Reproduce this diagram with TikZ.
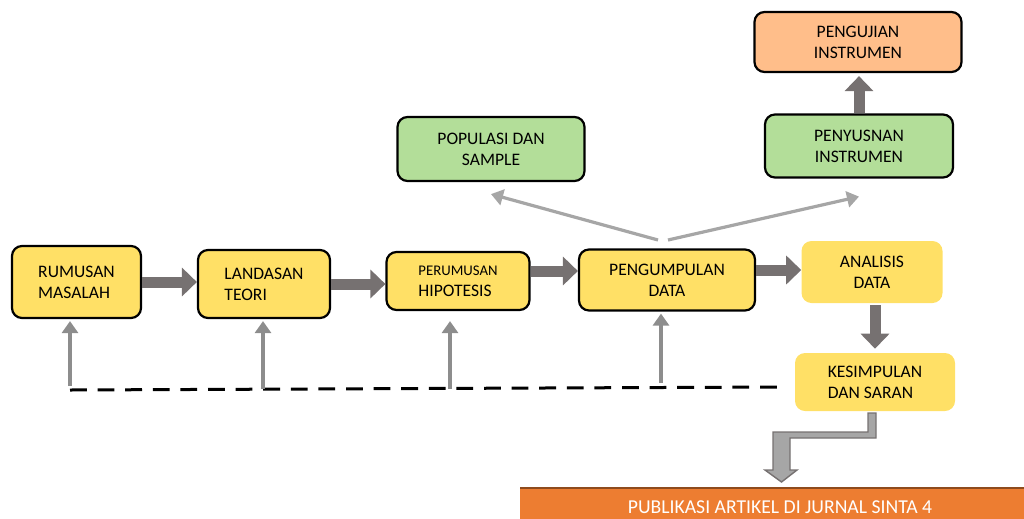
\documentclass[tikz,border=0pt]{standalone}
\usepackage{fontspec}
\setmainfont{Carlito}
\usetikzlibrary{arrows.meta}
\definecolor{boxyellow}{HTML}{FFE066}
\definecolor{boxgreen}{HTML}{B3DE99}
\definecolor{boxsalmon}{HTML}{FFBE8A}
\definecolor{pubor}{HTML}{ED7D31}
\definecolor{arrdark}{HTML}{767171}
\definecolor{arrlight}{HTML}{A6A6A6}
\tikzset{
  box/.style={draw=black, line width=0.55mm, rounded corners=2.5mm,
    font=\fontsize{12.5}{15}\selectfont, inner sep=0pt},
  plainbox/.style={rounded corners=2.5mm,
    font=\fontsize{12.5}{15}\selectfont, inner sep=0pt},
  bigarrow/.style={draw=arrdark, line width=2.75mm,
    -{Triangle[width=7mm,length=3.75mm]}},
  thinarrow/.style={draw=arrlight, line width=0.8mm,
    -{Triangle[width=4mm,length=3mm]}},
  backline/.style={draw=black, line width=0.75mm,
    dash pattern=on 4.2mm off 2.7mm}
}
\begin{document}
\begin{tikzpicture}[x=0.25mm,y=-0.25mm]
  \useasboundingbox (0,0) rectangle (1024,518);
  % main row
  \node[box, fill=boxyellow, minimum width=32.25mm, minimum height=18mm,
    align=left] (rm) at (76.5,282) {RUMUSAN\\MASALAH};
  \node[box, fill=boxyellow, minimum width=33mm, minimum height=17mm,
    align=left] (ld) at (264,284) {LANDASAN\\TEORI};
  \node[box, fill=boxyellow, minimum width=35.75mm, minimum height=14.5mm,
    align=left] (ph) at (458,281)
    {{\fontsize{10.5}{13}\selectfont PERUMUSAN}\\HIPOTESIS};
  \node[box, fill=boxyellow, minimum width=44mm, minimum height=15.25mm,
    align=center] (pd) at (667,280) {PENGUMPULAN\\DATA};
  \node[plainbox, fill=boxyellow, minimum width=35.25mm, minimum height=15.5mm,
    align=center] (ad) at (872,272) {ANALISIS\\DATA};
  \node[plainbox, fill=boxyellow, minimum width=40mm, minimum height=14.5mm,
    align=left] (ks) at (875,382) {KESIMPULAN\\DAN SARAN};
  % upper boxes
  \node[box, fill=boxgreen, minimum width=46.75mm, minimum height=16mm,
    align=center] (ps) at (491,149) {POPULASI DAN\\SAMPLE};
  \node[box, fill=boxgreen, minimum width=47mm, minimum height=15.75mm,
    align=center] (pi) at (859,146) {PENYUSNAN\\INSTRUMEN};
  \node[box, fill=boxsalmon, minimum width=51.75mm, minimum height=15mm,
    align=center] (pu) at (858,42) {PENGUJIAN\\INSTRUMEN};
  % publication bar
  \fill[pubor] (520,488) rectangle (1030,545);
  \draw[draw=pubor!60!black, line width=0.4mm] (520,488) -- (1030,488);
  \node[text=white, font=\fontsize{14}{16}\selectfont, inner sep=0pt,
    anchor=north] (pb) at (780,500) {PUBLIKASI ARTIKEL DI JURNAL SINTA 4};

  % block arrows
  \draw[bigarrow] (rm.east) -- (rm.east -| ld.west);
  \draw[bigarrow] (ld.east) -- (ld.east -| ph.west);
  \draw[bigarrow] ([yshift=2.5mm]ph.east) -- ([yshift=2.5mm]ph.east -| pd.west);
  \draw[bigarrow] ([yshift=2.5mm]pd.east) -- ([yshift=2.5mm]pd.east -| ad.west);
  \draw[bigarrow] ([yshift=-0.5mm]ad.south -| ks.north) -- ([yshift=1mm]ks.north);
  \draw[bigarrow] (pi.north) -- ([yshift=-0.75mm]pi.north |- pu.south);

  % fan out from data collection
  \coordinate (f1) at (658,240);
  \coordinate (f2) at (668,240);
  \draw[thinarrow] (f1) -- ([yshift=-3mm]ps.south);
  \draw[thinarrow] (f2) -- ([yshift=-4.5mm]pi.south);

  % feedback line
  \coordinate (d0) at (70,390);
  \coordinate (d9) at (780,387);
  \draw[backline] (d0) -- (d9);
  \coordinate (d1) at (70,386);
  \coordinate (d2) at (263,389);
  \coordinate (d3) at (450,389);
  \coordinate (d4) at (661,383);
  \draw[thinarrow, draw=arrlight!85!black] (d1) -- ([yshift=-0.5mm]d1 |- rm.south);
  \draw[thinarrow, draw=arrlight!85!black] (d2) -- ([yshift=-0.5mm]d2 |- ld.south);
  \draw[thinarrow, draw=arrlight!85!black] (d3) -- ([yshift=-2.5mm]d3 |- ph.south);
  \draw[thinarrow, draw=arrlight!85!black] (d4) -- ([yshift=-0.5mm]d4 |- pd.south);

  % bent arrow to publication
  \filldraw[fill=arrlight, draw=arrdark, line width=0.35mm, line join=miter]
    (876,413) -- (876,438) -- (790,438) -- (790,470) -- (797,470)
    -- (781.5,482) -- (765,470) -- (773,470) -- (773,432) -- (868,432)
    -- (868,413) -- cycle;
\end{tikzpicture}
\end{document}
